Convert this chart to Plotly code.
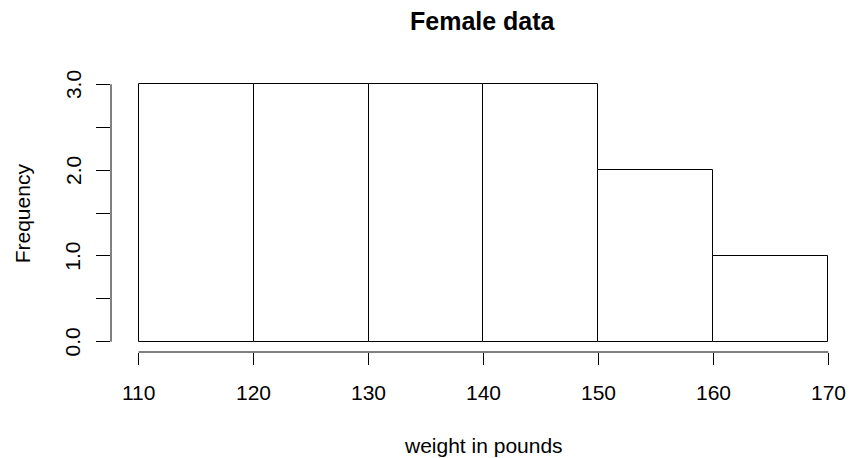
import plotly.graph_objects as go

# Data
bin_edges = [110, 120, 130, 140, 150, 160, 170]
counts = [3, 3, 3, 3, 2, 1]
x_ticks = [110, 120, 130, 140, 150, 160, 170]
y_ticks = [0, 0.5, 1, 1.5, 2, 2.5, 3]
y_labels = ["0.0", "1.0", "2.0", "3.0"]
y_label_vals = [0, 1, 2, 3]
title = "Female data"
xlab = "weight in pounds"
ylab = "Frequency"

W, H = 849, 458
L, R, T, B = 110.7, 0, 73.7, 105.7
pw = W - L - R
ph = H - T - B

def px_x(px):
    return (px - L) / pw

def px_y(py):
    return (H - B - py) / ph

mids = [(bin_edges[i] + bin_edges[i + 1]) / 2 for i in range(len(counts))]
widths = [bin_edges[i + 1] - bin_edges[i] for i in range(len(counts))]

FONT = "Liberation Sans, Arial, Helvetica, sans-serif"

fig = go.Figure(go.Bar(
    x=mids, y=counts, width=widths,
    marker=dict(color="white", line=dict(color="black", width=1)),
    hoverinfo="skip",
))

upp = 11.5  # px per unit x
x0 = 110 - (138.3 - L) / upp
x1 = x0 + pw / upp

annotations = []
for v in x_ticks:
    annotations.append(dict(x=v, xref="x", y=px_y(392.5), yref="paper",
                            text=str(v), showarrow=False, xanchor="center", yanchor="middle",
                            font=dict(size=21, color="black", family=FONT)))
for v, t in zip(y_label_vals, y_labels):
    annotations.append(dict(x=px_x(72.5), xref="paper", y=v, yref="y",
                            text=t, showarrow=False, xanchor="center", yanchor="middle",
                            textangle=-90,
                            font=dict(size=21, color="black", family=FONT)))
annotations.append(dict(x=px_x(483.3), xref="paper", y=px_y(446), yref="paper",
                        text=xlab, showarrow=False, xanchor="center", yanchor="middle",
                        font=dict(size=21, color="black", family=FONT)))
annotations.append(dict(x=px_x(22), xref="paper", y=1.5, yref="y",
                        text=ylab, showarrow=False, xanchor="center", yanchor="middle",
                        textangle=-90,
                        font=dict(size=21, color="black", family=FONT)))
annotations.append(dict(x=px_x(483.3), xref="paper", y=px_y(21), yref="paper",
                        text="<b>" + title + "</b>", showarrow=False, xanchor="center", yanchor="middle",
                        font=dict(size=25, color="black", family=FONT)))

shapes = [
    dict(type="line", xref="x", yref="paper", x0=x_ticks[0], x1=x_ticks[-1], y0=0, y1=0,
         line=dict(color="black", width=1)),
    dict(type="line", xref="paper", yref="y", x0=0, x1=0, y0=y_ticks[0], y1=y_ticks[-1],
         line=dict(color="black", width=1)),
]

fig.update_layout(
    width=W, height=H,
    margin=dict(l=L, r=R, t=T, b=B, pad=0),
    paper_bgcolor="white", plot_bgcolor="white",
    showlegend=False,
    bargap=0,
    xaxis=dict(range=[x0, x1], showgrid=False, zeroline=False, showline=False,
               tickvals=x_ticks, ticks="outside", ticklen=12, tickwidth=1, tickcolor="black",
               showticklabels=False, fixedrange=True),
    yaxis=dict(range=[-0.12, 3.12], showgrid=False, zeroline=False, showline=False,
               tickvals=y_ticks, ticks="outside", ticklen=14, tickwidth=1, tickcolor="black",
               showticklabels=False, fixedrange=True),
    annotations=annotations,
    shapes=shapes,
)

fig.write_html(
    "out.html",
    config={"displayModeBar": False},
    post_script="document.body.style.margin='0';document.body.style.padding='0';document.documentElement.style.margin='0';",
)
